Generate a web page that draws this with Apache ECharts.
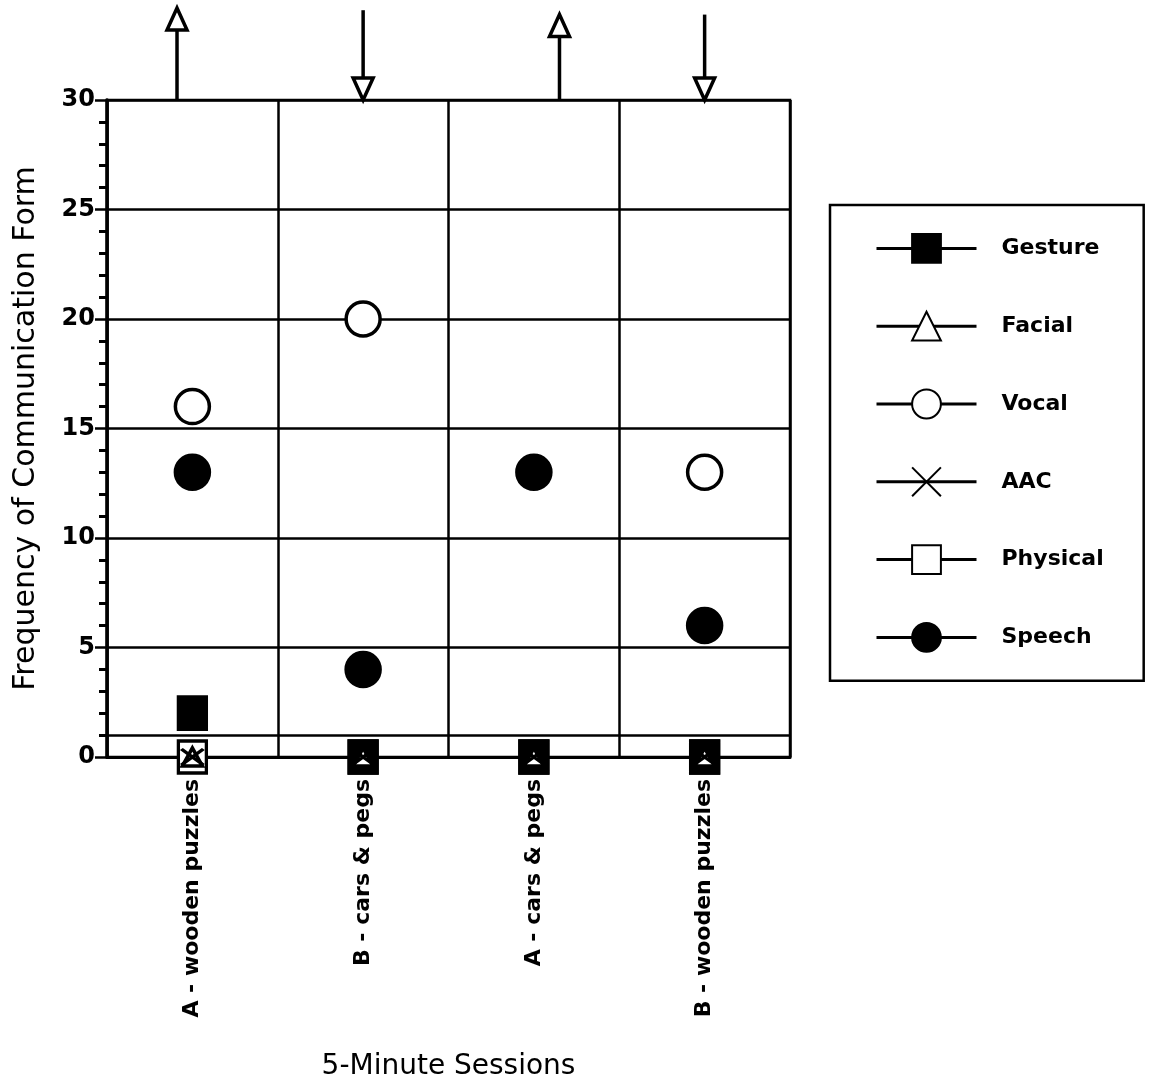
<!DOCTYPE html>
<html>
<head>
<meta charset="utf-8">
<script src="https://cdn.jsdelivr.net/npm/echarts@6/dist/echarts.min.js"></script>
<style>html,body{margin:0;padding:0;background:#fff}#c{width:1149px;height:1087px}</style>
</head>
<body>
<div id="c"></div>
<script>
const categories = ['A - wooden puzzles', 'B - cars & pegs', 'A - cars & pegs', 'B - wooden puzzles'];
const gesture  = [2, 0, 0, 0];
const facial   = [0, 0, 0, 0];
const vocal    = [16, 20, null, 13];
const aac      = [0, 0, 0, 0];
const physical = [0, 0, 0, 0];
const speech   = [13, 4, 13, 6];
const yTicks = [0, 5, 10, 15, 20, 25, 30];
const refLine = 1;
// phase arrows above the chart: [x position in category units, direction (1 up, -1 down), top value]
const arrowX   = [-0.09, 1.0, 2.15, 3.0];
const arrowDir = [1, -1, 1, -1];
const arrowTop = [34.2, 34.1, 33.9, 33.9];

const FONT = '"DejaVu Sans", Verdana, sans-serif';
const chart = echarts.init(document.getElementById('c'));

function mk(name, data, symbol, size, fill, z, extra) {
  return Object.assign({
    name, type: 'line', data, symbol, symbolSize: size, z,
    showAllSymbol: true, clip: false, connectNulls: false,
    lineStyle: { opacity: 0 },
    itemStyle: { color: fill, borderColor: '#000', borderWidth: 3.5, opacity: 1 },
    emphasis: { disabled: true }
  }, extra || {});
}

const series = [
  mk('Gesture', gesture, 'rect', [28, 32], '#000', 4),
  mk('Facial', facial, 'triangle', [20, 18], '#fff', 5),
  mk('Vocal', vocal, 'circle', 34, '#fff', 6),
  mk('AAC', aac, 'path://M0,0L20,20M20,0L0,20', [22, 16], 'rgba(0,0,0,0)', 7),
  mk('Physical', physical, 'rect', [28, 32], '#fff', 3, {
    markLine: {
      silent: true, symbol: 'none', label: { show: false },
      lineStyle: { color: '#000', width: 2.5, type: 'solid' },
      data: [{ yAxis: refLine }]
    }
  }),
  mk('Speech', speech, 'circle', 34, '#000', 8),
  {
    type: 'custom', name: 'arrows', clip: false, silent: true, z: 10,
    data: arrowX.map((x, i) => [x, arrowDir[i], arrowTop[i]]),
    renderItem: function (params, api) {
      const xv = api.value(0), dir = api.value(1), top = api.value(2);
      const base = Math.round(xv);
      const cw = api.size([1, 0])[0];
      const px = api.coord([base, 30])[0] + (xv - base) * cw;
      const yBase = api.coord([base, 30])[1];
      const yTop = api.coord([base, top])[1];
      const th = 22, hw = 10;
      const style = { stroke: '#000', lineWidth: 3.5, fill: '#fff' };
      if (dir > 0) {
        return { type: 'group', children: [
          { type: 'line', shape: { x1: px, y1: yBase, x2: px, y2: yTop + th }, style: { stroke: '#000', lineWidth: 3.5 } },
          { type: 'polygon', shape: { points: [[px, yTop], [px - hw, yTop + th], [px + hw, yTop + th]] }, style }
        ]};
      }
      return { type: 'group', children: [
        { type: 'line', shape: { x1: px, y1: yTop, x2: px, y2: yBase - th }, style: { stroke: '#000', lineWidth: 3.5 } },
        { type: 'polygon', shape: { points: [[px, yBase], [px - hw, yBase - th], [px + hw, yBase - th]] }, style }
      ]};
    }
  }
];

chart.setOption({
  backgroundColor: '#fff',
  animation: false,
  grid: { left: 107, right: 359, top: 100, bottom: 330, show: true, borderColor: '#000', borderWidth: 2.5, containLabel: false },
  legend: {
    orient: 'vertical', left: 830, top: 205,
    data: ['Gesture', 'Facial', 'Vocal', 'AAC', 'Physical', 'Speech'],
    itemWidth: 100, itemHeight: 36, itemGap: 47,
    padding: [28, 40, 28, 45],
    borderColor: '#000', borderWidth: 2.5,
    lineStyle: { width: 3, color: '#000', opacity: 1 },
    textStyle: { fontFamily: FONT, fontSize: 22, fontWeight: 'bold', color: '#000', padding: [0, 0, 0, 20] },
    selectedMode: false
  },
  xAxis: {
    type: 'category', data: categories, boundaryGap: true,
    name: '5-Minute Sessions', nameLocation: 'middle', nameGap: 296,
    nameTextStyle: { fontFamily: FONT, fontSize: 28, color: '#000' },
    axisLine: { show: true, lineStyle: { color: '#000', width: 3 } },
    axisTick: { show: false },
    axisLabel: { rotate: 90, margin: 22, interval: 0, fontFamily: FONT, fontSize: 22, fontWeight: 'bold', color: '#000' },
    splitLine: { show: true, interval: 0, lineStyle: { color: '#000', width: 2.5 } }
  },
  yAxis: {
    type: 'value', min: 0, max: 30, interval: 5,
    name: 'Frequency of Communication Form', nameLocation: 'middle', nameGap: 66,
    nameTextStyle: { fontFamily: FONT, fontSize: 30, color: '#000' },
    axisLine: { show: true, lineStyle: { color: '#000', width: 3.5 } },
    axisTick: { show: true, length: 12, lineStyle: { color: '#000', width: 2.5 } },
    minorTick: { show: true, splitNumber: 5, length: 8, lineStyle: { color: '#000', width: 3 } },
    axisLabel: {
      margin: 12, fontFamily: FONT, fontSize: 24, fontWeight: 'bold', color: '#000',
      formatter: v => (yTicks.indexOf(v) >= 0 ? String(v) : '')
    },
    splitLine: { show: true, lineStyle: { color: '#000', width: 2.5 } }
  },
  series
});
</script>
</body>
</html>
